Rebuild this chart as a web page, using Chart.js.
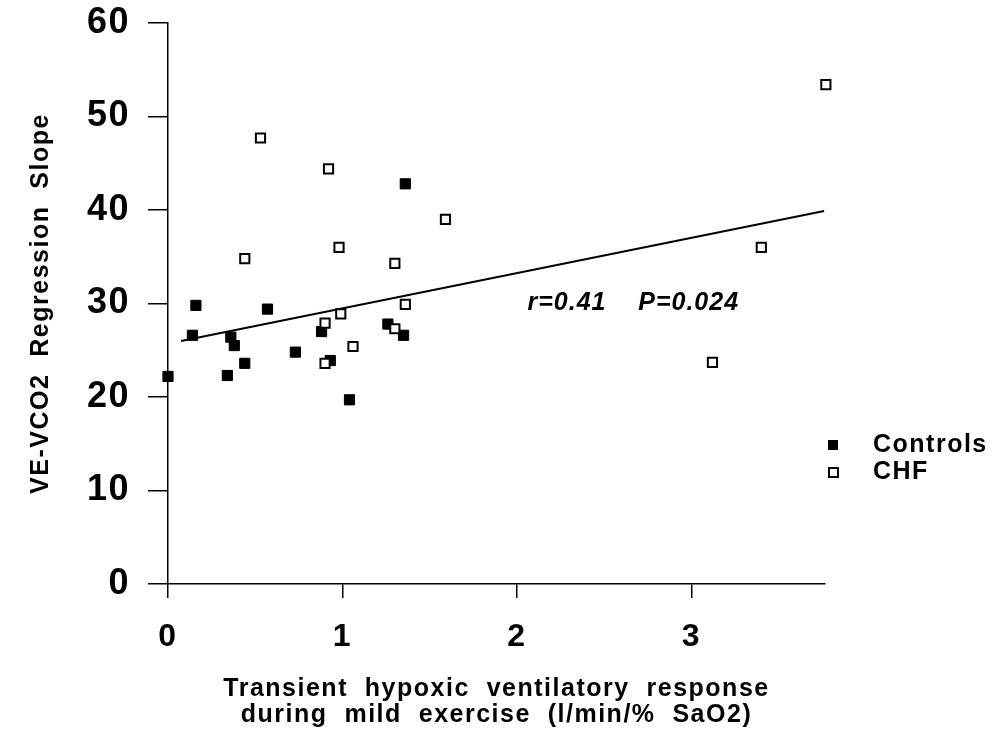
<!DOCTYPE html>
<html>
<head>
<meta charset="utf-8">
<script src="https://cdn.jsdelivr.net/npm/chart.js@4.4.0/dist/chart.umd.min.js"></script>
<style>
  html, body { margin: 0; padding: 0; background: #fff; }
  #wrap { width: 999px; height: 741px; }
</style>
</head>
<body>
<div id="wrap"><canvas id="chart"></canvas></div>
<script>
// Controls (filled squares)
const controlsX = [0.00, 0.14, 0.16, 0.36, 0.38, 0.34, 0.44, 0.57, 0.73, 0.88, 0.93, 1.04, 1.36, 1.26, 1.35];
const controlsY = [22.2, 26.6, 29.8, 26.4, 25.5, 22.3, 23.6, 29.4, 24.8, 27.0, 23.9, 19.7, 42.8, 27.8, 26.6];

// CHF (open squares)
const chfX = [0.53, 0.92, 1.59, 0.44, 0.98, 1.30, 1.36, 0.99, 0.90, 1.30, 1.06, 0.90, 3.77, 3.40, 3.12];
const chfY = [47.7, 44.4, 39.0, 34.8, 36.0, 34.3, 29.9, 28.9, 27.9, 27.3, 25.4, 23.6, 53.4, 36.0, 23.7];

const fitX = [0.075, 3.76];
const fitY = [26.0, 39.9];

const xTicks = [0, 1, 2, 3];
const yTicks = [0, 10, 20, 30, 40, 50, 60];
const seriesLabels = ['Controls', 'CHF'];
const statText = 'r=0.41    P=0.024';
const statAt = [2.06, 30];

const FONT = '"Liberation Sans", Arial, sans-serif';
const NARROW = '"Liberation Sans Narrow", "Liberation Sans", Arial, sans-serif';

function toPoints(xs, ys) {
  return xs.map((x, i) => ({ x: x, y: ys[i] }));
}

// draws the r/P note and the legend, and gives text the spaced-out look
const paperLook = {
  id: 'paperLook',
  beforeDraw(chart) {
    chart.ctx.letterSpacing = '1.5px';
  },
  afterDraw(chart) {
    const { ctx, scales: { x, y } } = chart;
    ctx.save();
    ctx.fillStyle = '#000';
    ctx.strokeStyle = '#000';

    ctx.font = 'italic bold 25px ' + FONT;
    ctx.letterSpacing = '1px';
    ctx.textAlign = 'left';
    ctx.textBaseline = 'middle';
    ctx.fillText(statText, x.getPixelForValue(statAt[0]), y.getPixelForValue(statAt[1]));

    // legend
    ctx.font = 'bold 25px ' + NARROW;
    ctx.letterSpacing = '1.5px';
    const rows = [445, 472];
    chart.data.datasets.forEach(ds => {
      const i = seriesLabels.indexOf(ds.label);
      if (i < 0) return;
      const cy = rows[i];
      if (i === 0) {
        ctx.fillRect(828, cy - 5, 10, 10);
      } else {
        ctx.lineWidth = 2;
        ctx.strokeRect(829, cy - 4, 9, 9);
      }
      ctx.fillText(ds.label, 873, cy);
    });
    ctx.restore();
  }
};

new Chart(document.getElementById('chart'), {
  type: 'scatter',
  data: {
    datasets: [
      {
        label: 'fit',
        type: 'line',
        data: toPoints(fitX, fitY),
        borderColor: '#000',
        borderWidth: 2,
        pointRadius: 0,
        fill: false,
        order: 3
      },
      {
        label: seriesLabels[0],
        data: toPoints(controlsX, controlsY),
        pointStyle: 'rect',
        pointRadius: 7.2,
        backgroundColor: '#000',
        borderColor: '#000',
        borderWidth: 1,
        clip: false,
        order: 2
      },
      {
        label: seriesLabels[1],
        data: toPoints(chfX, chfY),
        pointStyle: 'rect',
        pointRadius: 6.5,
        backgroundColor: '#fff',
        borderColor: '#000',
        borderWidth: 2,
        clip: false,
        order: 1
      }
    ]
  },
  options: {
    responsive: true,
    maintainAspectRatio: false,
    animation: false,
    events: [],
    layout: { padding: { top: 23, right: 174, left: 0, bottom: 0 } },
    plugins: {
      legend: { display: false },
      tooltip: { enabled: false }
    },
    scales: {
      x: {
        type: 'linear',
        min: 0,
        max: 3.765,
        afterBuildTicks: scale => { scale.ticks = xTicks.map(v => ({ value: v })); },
        afterFit: scale => { scale.height = 157; },
        grid: { drawOnChartArea: false, drawTicks: true, tickLength: 14, color: '#000', lineWidth: 1.5 },
        border: { display: true, color: '#000', width: 1.5 },
        ticks: { color: '#000', font: { family: FONT, size: 32, weight: 'bold' }, padding: 20 },
        title: {
          display: true,
          text: ['Transient  hypoxic  ventilatory  response', 'during  mild  exercise  (l/min/%  SaO2)'],
          color: '#000',
          font: { family: NARROW, size: 25, weight: 'bold', lineHeight: 1.05 },
          padding: { top: 0, bottom: 13 }
        }
      },
      y: {
        type: 'linear',
        min: 0,
        max: 60,
        afterBuildTicks: scale => { scale.ticks = yTicks.map(v => ({ value: v })); },
        afterFit: scale => {
          scale.width = 168;
          scale.paddingTop = 0;
          scale.paddingBottom = 0;
        },
        grid: { drawOnChartArea: false, drawTicks: true, tickLength: 20, color: '#000', lineWidth: 1.5 },
        border: { display: true, color: '#000', width: 1.5 },
        ticks: { color: '#000', font: { family: FONT, size: 36, weight: 'bold' }, padding: 18 },
        title: {
          display: true,
          text: 'VE-VCO2  Regression  Slope',
          color: '#000',
          font: { family: NARROW, size: 25, weight: 'bold', lineHeight: 1.2 },
          padding: { top: 26, bottom: 0 }
        }
      }
    }
  },
  plugins: [paperLook]
});
</script>
</body>
</html>
